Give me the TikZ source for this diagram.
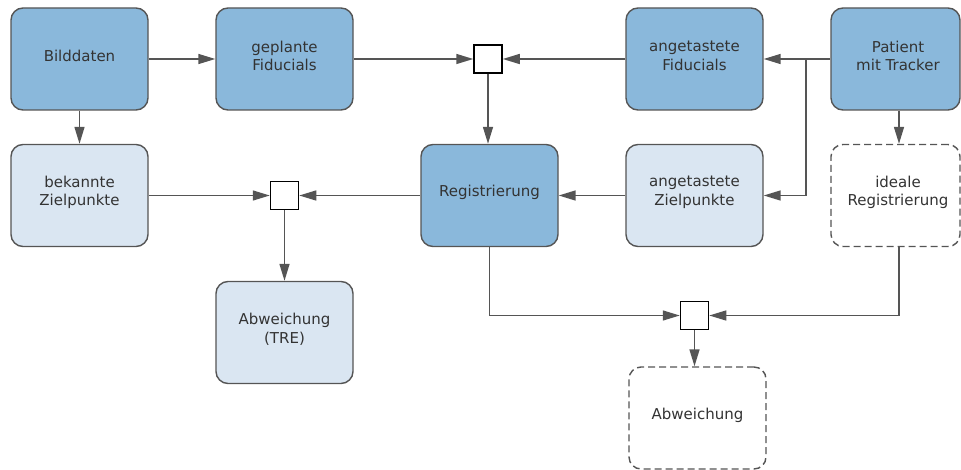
\documentclass[tikz,border=0pt]{standalone}
\usepackage{fontspec}
\setmainfont{DejaVu Sans}
\usetikzlibrary{arrows.meta}
\definecolor{boxdark}{RGB}{138,184,219}
\definecolor{boxlight}{RGB}{218,230,242}
\definecolor{edgegray}{RGB}{85,85,85}
\definecolor{textgray}{RGB}{51,51,51}
\tikzset{
  x=1pt, y=-1pt,
  stage/.style={rounded corners=12pt, draw=edgegray, line width=1.4pt,
    minimum width=137pt, minimum height=102pt, inner sep=0pt},
  primary/.style={stage, fill=boxdark},
  secondary/.style={stage, fill=boxlight},
  virtual/.style={stage, fill=white, dash pattern=on 7pt off 4pt},
  caption/.style={align=center, inner sep=0pt, text=textgray,
    font=\fontsize{15}{18.5}\selectfont},
  junction/.style={draw=black, fill=white, line width=1.5pt,
    minimum size=28pt, inner sep=0pt},
  flow/.style={draw=edgegray, line width=1.5pt,
    -{Triangle[length=17pt,width=10pt]}},
}
\begin{document}
\begin{tikzpicture}
\useasboundingbox (0,0) rectangle (961,470);

% processing stages
\node[primary]   (bild)    at (79.5,59)    {};
\node[primary]   (geplant) at (284.5,59)   {};
\node[primary]   (angfid)  at (694.5,59)   {};
\node[primary, minimum width=129pt] (pat) at (895.5,59) {};
\node[secondary] (bek)     at (79.5,195.5) {};
\node[primary]   (reg)     at (489.5,195.5){};
\node[secondary] (angziel) at (694.5,195.5){};
\node[virtual, minimum width=129pt] (ideal) at (895.5,195.5) {};
\node[secondary] (tre)     at (284.5,332.5){};
\node[virtual]   (abw)     at (697.5,418)  {};

% stage captions, set a little above the box centre
\node[caption] (bildtxt)    at ([yshift=3pt]bild)      {Bilddaten};
\node[caption] (geplanttxt) at ([yshift=3pt]geplant)   {geplante\\Fiducials};
\node[caption] (angfidtxt)  at ([yshift=3pt]angfid)    {angetastete\\Fiducials};
\node[caption] (pattxt)     at ([xshift=2.5pt,yshift=3pt]pat) {Patient\\mit Tracker};
\node[caption] (bektxt)     at ([yshift=3pt]bek)       {bekannte\\Zielpunkte};
\node[caption] (regtxt)     at ([yshift=3pt]reg)       {Registrierung};
\node[caption] (angzieltxt) at ([yshift=3pt]angziel)   {angetastete\\Zielpunkte};
\node[caption] (idealtxt)   at ([xshift=2.5pt,yshift=3pt]ideal) {ideale\\Registrierung};
\node[caption] (tretxt)     at ([yshift=3pt]tre)       {Abweichung\\(TRE)};
\node[caption] (abwtxt)     at ([yshift=3pt]abw)       {Abweichung};

% comparison junctions
\node[junction] (j1) at (488,59) {};
\node[junction] (j2) at (284.5,195.5) {};
\node[junction] (j3) at (694.5,315.5) {};

% branch point of the tracker output
\coordinate (split) at (806,59);

% connectors
\draw[flow] (bild) -- (geplant);
\draw[flow] (geplant) -- (j1);
\draw[flow] (angfid) -- (j1);
\draw[flow] (pat) -- (angfid);
\draw[flow] (split) |- (angziel.east);
\draw[flow] (pat.south -| 899,0) -- (ideal.north -| 899,0);
\draw[flow] (bild) -- (bek);
\draw[flow] (j1) -- (reg.north -| j1);
\draw[flow] (bek) -- (j2);
\draw[flow] (reg) -- (j2);
\draw[flow] (angziel) -- (reg);
\draw[flow] (j2) -- (tre);
\draw[flow] (reg.south) |- (j3.west);
\draw[flow] (ideal.south -| 899,0) |- (j3.east);
\draw[flow] (j3) -- (j3 |- abw.north);
\end{tikzpicture}
\end{document}
